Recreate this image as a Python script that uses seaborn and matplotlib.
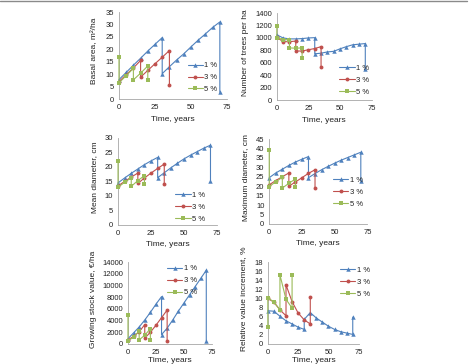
import numpy as np
import matplotlib.pyplot as plt
import seaborn as sns
from matplotlib.lines import Line2D

sns.set_style("white")
plt.rcParams["font.family"] = ["Liberation Sans", "DejaVu Sans"]

# time points (thinning events repeat the same year)
t1 = [0, 5, 10, 15, 20, 25, 30, 30, 35, 40, 45, 50, 55, 60, 65, 70, 70]
t3 = [0, 5, 10, 15, 15, 20, 25, 30, 35, 35]
t5 = [0, 0, 5, 10, 10, 15, 20, 20]

series_labels = ["1 %", "3 %", "5 %"]

basal_1 = [7.8, 10.7, 13.6, 16.4, 19.3, 22.0, 24.7, 10.2, 13.0, 15.7, 18.2, 21.0, 23.7, 26.2, 28.8, 31.0, 2.7]
basal_3 = [7.0, 9.8, 12.5, 15.5, 8.8, 11.5, 14.2, 16.8, 19.5, 5.8]
basal_5 = [17.0, 6.5, 9.4, 12.3, 7.7, 10.4, 13.3, 7.7]

trees_1 = [1050, 1000, 985, 985, 990, 1000, 1005, 745, 755, 775, 785, 825, 860, 890, 900, 910, 505]
trees_3 = [1010, 940, 940, 950, 790, 790, 810, 830, 860, 540]
trees_5 = [1200, 1005, 975, 970, 840, 835, 840, 670]

meand_1 = [14.5, 16.2, 17.8, 19.3, 20.8, 22.1, 23.3, 16.3, 18.0, 19.7, 21.3, 22.8, 24.1, 25.3, 26.5, 27.5, 15.0]
meand_3 = [13.5, 15.0, 16.5, 17.9, 14.3, 16.2, 17.9, 19.5, 21.0, 14.0]
meand_5 = [22.2, 13.0, 14.7, 16.3, 13.3, 15.3, 17.0, 14.2]

maxd_1 = [24.5, 27.0, 29.0, 31.0, 32.8, 34.3, 35.7, 24.5, 26.7, 28.7, 30.5, 32.2, 33.8, 35.2, 36.6, 38.0, 23.0]
maxd_3 = [20.7, 23.0, 25.0, 27.0, 20.0, 22.2, 24.5, 26.8, 28.7, 18.8]
maxd_5 = [39.0, 19.8, 22.3, 24.7, 19.0, 21.5, 23.8, 19.4]

value_1 = [900, 1900, 2900, 4100, 5400, 6800, 8100, 1600, 2700, 4100, 5600, 7000, 8400, 9800, 11200, 12600, 500]
value_3 = [700, 1300, 2100, 3300, 1000, 2000, 3200, 4500, 5800, 500]
value_5 = [5000, 500, 1200, 2200, 700, 1500, 2600, 700]

incr_1 = [7.3, 7.2, 6.1, 5.1, 4.4, 3.7, 3.2, 5.4, 6.9, 5.7, 4.8, 3.9, 3.2, 2.7, 2.4, 2.1, 5.9]
incr_3 = [10.0, 9.2, 7.5, 6.2, 13.0, 9.3, 6.8, 5.3, 4.4, 10.3]
incr_5 = [3.8, 10.2, 9.2, 7.5, 15.2, 9.8, 7.9, 15.1]

colors = ["#4F81BD", "#C0504D", "#9BBB59"]
markers = ["^", "o", "s"]
msizes = [3.2, 2.8, 3.0]

panels = [
    # data, ylabel, ymax, ystep, axes rect, legend anchor, ylabel x
    ((basal_1, basal_3, basal_5), "Basal area, m\u00b2/ha", 35, 5,
     [0.251, 0.728, 0.228, 0.239], (0.60, 0.47), -0.19),
    ((trees_1, trees_3, trees_5), "Number of trees per ha", 1400, 200,
     [0.584, 0.725, 0.200, 0.239], (0.62, 0.45), -0.29),
    ((meand_1, meand_3, meand_5), "Mean diameter, cm", 30, 5,
     [0.249, 0.382, 0.209, 0.239], (0.54, 0.43), -0.20),
    ((maxd_1, maxd_3, maxd_5), "Maximum diameter, cm", 45, 5,
     [0.568, 0.385, 0.207, 0.233], (0.61, 0.60), -0.21),
    ((value_1, value_3, value_5), "Growing stock value, \u20ac/ha", 14000, 2000,
     [0.270, 0.055, 0.177, 0.225], (0.42, 1.01), -0.37),
    ((incr_1, incr_3, incr_5), "Relative value increment, %", 18, 2,
     [0.565, 0.055, 0.192, 0.225], (0.75, 0.99), -0.23),
]

fig = plt.figure(figsize=(4.74, 3.64), dpi=100)

for i, (vals, ylabel, ymax, ystep, rect, leg_xy, ylab_x) in enumerate(panels):
    ax = fig.add_axes(rect)
    for t, v, c, m, ms, lab in zip((t1, t3, t5), vals, colors, markers, msizes, series_labels):
        sns.lineplot(x=t, y=v, sort=False, estimator=None, color=c, marker=m,
                     markersize=ms, markeredgewidth=0, linewidth=0.8, label=lab,
                     zorder=4, clip_on=False, ax=ax)
    ax.set_xlim(0, 75)
    ax.set_ylim(0, ymax)
    ax.set_xticks([0, 25, 50, 75])
    ax.set_yticks(np.arange(0, ymax + ystep / 2, ystep))
    ax.tick_params(labelsize=5.5, length=2, width=0.5, color="#A0A0A0",
                   labelcolor="#222222", pad=1.5)
    for side in ("top", "right"):
        ax.spines[side].set_visible(False)
    for side in ("left", "bottom"):
        ax.spines[side].set_color("#A6A6A6")
        ax.spines[side].set_linewidth(0.6)
        ax.spines[side].set_zorder(1)
    ax.set_xlabel("Time, years", fontsize=6, color="#222222")
    ax.set_ylabel(ylabel, fontsize=6, color="#222222")
    ax.xaxis.set_label_coords(0.5, -0.16 if i >= 4 else -0.19)
    ax.yaxis.set_label_coords(ylab_x, 0.55)
    ax.legend(loc="upper left", bbox_to_anchor=leg_xy, frameon=False, fontsize=5.5,
              handlelength=2.0, handletextpad=0.2, labelspacing=0.6, borderpad=0,
              numpoints=1, labelcolor="#222222")

# frame line at the top of the figure
fig.add_artist(Line2D([0.0, 0.985], [0.998, 0.998], color="#8A8A8A", linewidth=1.0))

fig.savefig("out.png", dpi=100)
